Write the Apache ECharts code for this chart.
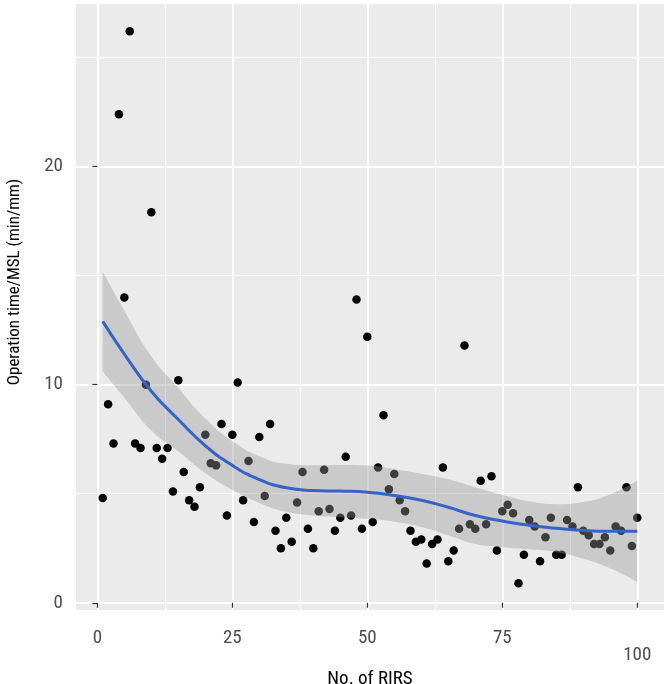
<!DOCTYPE html>
<html>
<head>
<meta charset="utf-8">
<script src="https://cdn.jsdelivr.net/npm/echarts@6/dist/echarts.min.js"></script>
<style>
  html, body { margin: 0; padding: 0; background: #fff; }
  #chart { width: 667px; height: 684px; }
</style>
</head>
<body>
<div id="chart"></div>
<script>
// case number (No. of RIRS)
const rirsNo = [
  1, 2, 3, 4, 5, 6, 7, 8, 9, 10, 11, 12, 13, 14, 15, 16, 17, 18, 19, 20,
  21, 22, 23, 24, 25, 26, 27, 28, 29, 30, 31, 32, 33, 34, 35, 36, 37, 38, 39, 40,
  41, 42, 43, 44, 45, 46, 47, 48, 49, 50, 51, 52, 53, 54, 55, 56, 57, 58, 59, 60,
  61, 62, 63, 64, 65, 66, 67, 68, 69, 70, 71, 72, 73, 74, 75, 76, 77, 78, 79, 80,
  81, 82, 83, 84, 85, 86, 87, 88, 89, 90, 91, 92, 93, 94, 95, 96, 97, 98, 99, 100
]
// operation time / MSL (min/mm)
const opTime = [
  4.8, 9.1, 7.3, 22.4, 14.0, 26.2, 7.3, 7.1, 10.0, 17.9,
  7.1, 6.6, 7.1, 5.1, 10.2, 6.0, 4.7, 4.4, 5.3, 7.7,
  6.4, 6.3, 8.2, 4.0, 7.7, 10.1, 4.7, 6.5, 3.7, 7.6,
  4.9, 8.2, 3.3, 2.5, 3.9, 2.8, 4.6, 6.0, 3.4, 2.5,
  4.2, 6.1, 4.3, 3.3, 3.9, 6.7, 4.0, 13.9, 3.4, 12.2,
  3.7, 6.2, 8.6, 5.2, 5.9, 4.7, 4.2, 3.3, 2.8, 2.9,
  1.8, 2.7, 2.9, 6.2, 1.9, 2.4, 3.4, 11.8, 3.6, 3.4,
  5.6, 3.6, 5.8, 2.4, 4.2, 4.5, 4.1, 0.9, 2.2, 3.8,
  3.5, 1.9, 3.0, 3.9, 2.2, 2.2, 3.8, 3.5, 5.3, 3.3,
  3.1, 2.7, 2.7, 3.0, 2.4, 3.5, 3.3, 5.3, 2.6, 3.9
]

// loess fit and 95% band
const fitX = [1, 5, 10, 15, 20, 25, 30, 35, 40, 45, 50, 55, 60, 65, 70, 75, 80, 85, 90, 95, 100]
const fitY = [12.9, 11.4, 9.7, 8.4, 7.2, 6.3, 5.65, 5.27, 5.15, 5.12, 5.07, 4.92, 4.7, 4.38, 4.0, 3.75, 3.55, 3.42, 3.32, 3.28, 3.28]
const fitUpper = [15.2, 13.4, 11.3, 9.85, 8.45, 7.42, 6.72, 6.37, 6.3, 6.32, 6.29, 6.12, 5.92, 5.66, 5.3, 4.95, 4.65, 4.52, 4.62, 4.98, 5.6]
const fitLower = [10.6, 9.4, 7.9, 6.95, 5.95, 5.18, 4.58, 4.17, 4.0, 3.92, 3.85, 3.72, 3.48, 3.1, 2.7, 2.55, 2.45, 2.32, 2.02, 1.58, 0.95]

// tick labels
const xTicks = [0, 25, 50, 75, 100]
const xMinor = [12.5, 37.5, 62.5, 87.5]
const yTicks = [0, 10, 20]
const yMinor = [5, 15, 25]

const FONT = "'Liberation Sans Narrow', 'Roboto Condensed', 'Roboto', sans-serif"
const xRange = { min: -3.95, max: 104.95 }
const yRange = { min: -0.33, max: 27.45 }

const chart = echarts.init(document.getElementById('chart'))

// band series: value first so that the stack goes on y, not on x
const bandSeries = (vals, extra) => Object.assign({
  type: 'line',
  stack: 'ci',
  data: fitX.map((x, i) => [vals[i], x]),
  encode: { x: 1, y: 0 },
  symbol: 'none',
  smooth: true,
  lineStyle: { opacity: 0 },
  z: 3
}, extra)

const options = {
  animation: false,
  backgroundColor: '#ffffff',
  grid: {
    left: 76,
    right: 3,
    top: 4,
    bottom: 74,
    outerBoundsMode: 'none',
    containLabel: false,
    show: true,
    backgroundColor: '#EBEBEB',
    borderWidth: 0
  },
  xAxis: [
    {
      type: 'value',
      ...xRange,
      name: 'No. of RIRS',
      nameLocation: 'middle',
      nameGap: 46,
      nameTextStyle: { fontFamily: FONT, fontSize: 19, color: '#000' },
      axisLine: { show: false },
      axisTick: { show: true, length: 5, customValues: xTicks, lineStyle: { color: '#333', width: 1.2 } },
      axisLabel: {
        customValues: xTicks,
        margin: 19,
        fontFamily: FONT,
        fontSize: 19,
        color: '#4D4D4D',
        formatter: v => (v === 100 ? '{low|100}' : String(v)),
        rich: { low: { padding: [17, 0, 0, 0], fontFamily: FONT, fontSize: 19, color: '#4D4D4D' } }
      },
      splitLine: { show: true, lineStyle: { color: '#ffffff', width: 2 } }
    },
    {
      // minor grid lines only
      type: 'value',
      ...xRange,
      axisLine: { show: false },
      axisTick: { show: false, customValues: xMinor },
      axisLabel: { show: false },
      splitLine: { show: true, lineStyle: { color: '#ffffff', width: 1 } }
    }
  ],
  yAxis: [
    {
      type: 'value',
      ...yRange,
      name: 'Operation time/MSL (min/mm)',
      nameLocation: 'middle',
      nameGap: 53,
      // title sits above the panel centre in the original
      nameTextStyle: { fontFamily: FONT, fontSize: 17, color: '#000', padding: [0, 0, 0, 50] },
      axisLine: { show: false },
      axisTick: { show: true, length: 5, customValues: yTicks, lineStyle: { color: '#333', width: 1.2 } },
      axisLabel: { customValues: yTicks, margin: 13, fontFamily: FONT, fontSize: 19, color: '#4D4D4D' },
      splitLine: { show: true, lineStyle: { color: '#ffffff', width: 2 } }
    },
    {
      type: 'value',
      ...yRange,
      position: 'left',
      axisLine: { show: false },
      axisTick: { show: false, customValues: yMinor },
      axisLabel: { show: false },
      splitLine: { show: true, lineStyle: { color: '#ffffff', width: 1 } }
    }
  ],
  series: [
    {
      type: 'scatter',
      data: rirsNo.map((x, i) => [x, opTime[i]]),
      symbolSize: 8.5,
      itemStyle: { color: '#000000', opacity: 1 },
      z: 2
    },
    // lower edge of the band
    bandSeries(fitLower, {}),
    // band thickness on top of the lower edge
    bandSeries(fitUpper.map((u, i) => u - fitLower[i]), {
      areaStyle: { color: '#999999', opacity: 0.4 }
    }),
    {
      type: 'line',
      data: fitX.map((x, i) => [x, fitY[i]]),
      symbol: 'none',
      smooth: true,
      lineStyle: { color: '#3563C8', width: 3 },
      z: 4
    }
  ]
}

chart.setOption(options)
</script>
</body>
</html>
